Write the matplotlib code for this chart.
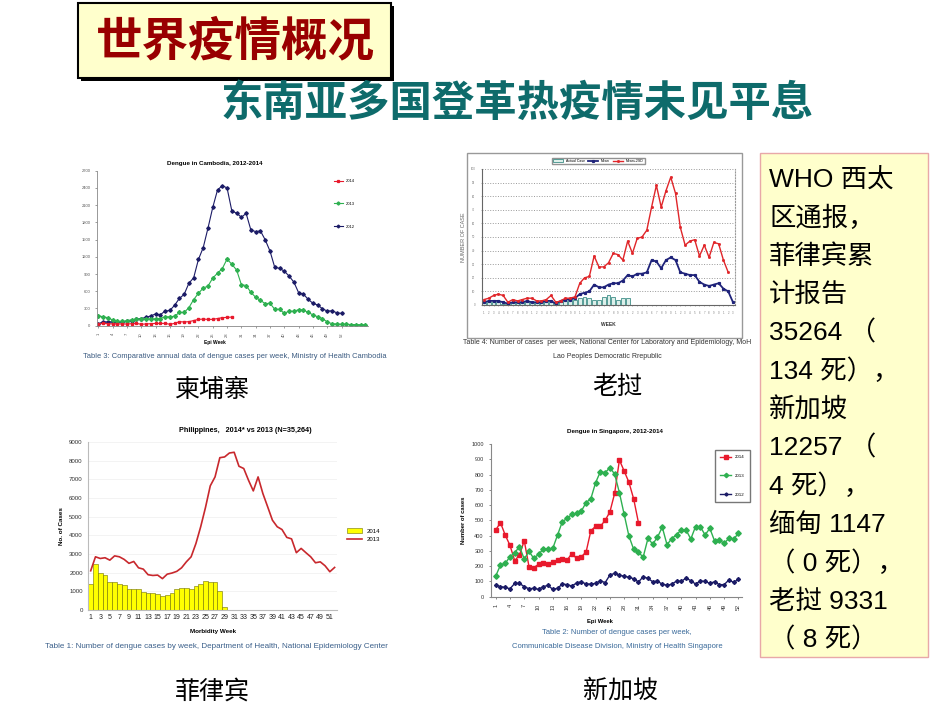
import matplotlib
matplotlib.use("Agg")
import matplotlib.pyplot as plt
from matplotlib.patches import Rectangle
import numpy as np

plt.rcParams['font.family'] = ['Liberation Sans', 'Noto Sans CJK SC']
plt.rcParams['axes.unicode_minus'] = False

W, H = 950, 713

# ---------------- data ----------------
# Cambodia (weekly cases)
kh_2012 = [30, 70, 65, 70, 65, 70, 75, 90, 110, 125, 145, 170, 205, 190, 255, 265, 355, 475, 545, 740,
           835, 1155, 1360, 1700, 2060, 2365, 2440, 2400, 2000, 1960, 1890, 1955, 1665, 1640, 1650, 1495,
           1300, 1015, 1000, 950, 865, 760, 575, 550, 460, 390, 360, 295, 255, 260, 225, 215]
kh_2013 = [175, 155, 140, 100, 75, 75, 85, 105, 110, 115, 120, 120, 120, 125, 155, 155, 165, 230, 230, 315,
           455, 565, 655, 690, 830, 915, 995, 1160, 1070, 970, 715, 700, 580, 495, 440, 385, 390, 285, 285,
           215, 255, 250, 280, 275, 230, 190, 155, 125, 65, 35, 30, 25, 25, 20, 20, 18, 15]
kh_2014 = [30, 40, 35, 30, 30, 30, 30, 35, 40, 25, 30, 35, 40, 40, 40, 25, 40, 70, 65, 70, 90, 110, 115,
           110, 110, 125, 140, 145, 150]
kh_ticks = list(range(1, 53, 3))

# Laos (weekly cases)
la_mean2sd = [4, 5, 7, 8, 7, 2, 4, 3, 4, 5, 5, 3, 3, 4, 7, 2, 3, 5, 5, 6,
              16, 20, 21, 36, 28, 28, 31, 38, 37, 33, 47, 38, 49, 50, 55, 72, 88, 72, 84, 94,
              82, 57, 44, 47, 48, 36, 44, 35, 46, 45, 33, 24]
la_mean = [2, 3, 3, 3, 2, 1, 2, 2, 2, 3, 2, 2, 2, 3, 3, 1, 3, 4, 4, 5,
           8, 9, 10, 15, 13, 13, 15, 16, 16, 18, 22, 21, 23, 23, 24, 33, 32, 27, 33, 35,
           33, 24, 23, 22, 22, 17, 15, 14, 15, 16, 12, 10, 2]
la_actual = [2, 2, 2, 2, 1, 1, 2, 2, 2, 2, 2, 2, 2, 2, 2, 2, 3, 3, 4, 4,
             5, 6, 5, 4, 4, 6, 7, 6, 4, 5, 5]

# Philippines (weekly cases)
ph_2013 = [2100, 2850, 2760, 2800, 2670, 2900, 2850, 2710, 2500, 2600, 2260, 2190, 1890, 1850, 1870, 1680,
           1920, 1980, 2070, 2260, 2580, 2850, 3560, 4460, 5490, 6650, 7130, 8160, 8200, 8410, 8450, 7700,
           7580, 6950, 6380, 7130, 6240, 5530, 4810, 4460, 4310, 3890, 3810, 3070, 3300, 3070, 2850, 2530,
           2580, 2370, 2050, 2280]
ph_2014 = [1370, 2440, 2000, 1850, 1480, 1480, 1370, 1340, 1100, 1100, 1100, 960, 890, 890, 860, 770, 800,
           930, 1140, 1160, 1190, 1100, 1300, 1370, 1550, 1510, 1480, 1030, 180]
ph_ticks = list(range(1, 52, 2))

# Singapore (weekly cases)
sg_2014 = [437, 485, 404, 336, 236, 273, 367, 197, 190, 212, 223, 212, 225, 240, 245, 240, 282, 251, 262,
           293, 432, 461, 461, 500, 555, 677, 895, 823, 749, 640, 485]
sg_2013 = [135, 207, 218, 262, 288, 328, 247, 297, 251, 277, 312, 312, 317, 404, 491, 513, 539, 546, 561,
           616, 642, 747, 819, 812, 845, 803, 681, 539, 397, 310, 290, 260, 382, 345, 389, 456, 341, 380,
           406, 437, 437, 378, 459, 459, 404, 448, 365, 371, 349, 382, 376, 415]
sg_2012 = [76, 66, 61, 52, 87, 87, 66, 52, 55, 48, 66, 74, 48, 55, 83, 79, 70, 90, 98, 83, 83, 87, 105, 92,
           142, 153, 140, 135, 127, 118, 96, 131, 120, 98, 103, 81, 76, 81, 103, 100, 122, 105, 83, 103,
           100, 87, 98, 79, 79, 109, 94, 114]
sg_ticks = list(range(1, 53, 3))

who_lines = ["WHO 西太", "区通报，", "菲律宾累", "计报告", "35264 （", "134 死），", "新加坡",
             "12257 （", "4 死），", "缅甸 1147", "（ 0 死），", "老挝 9331", "（ 8 死）"]


def wk(vals):
    return np.arange(1, len(vals) + 1)


def px_axes(l, t, r, b):
    a = fig.add_axes([l / W, 1 - b / H, (r - l) / W, (b - t) / H])
    a.patch.set_alpha(0)
    a.set_zorder(2)
    return a


def ftext(x, y, s, **kw):
    fig.text(x / W, 1 - y / H, s, **kw)


def fbox(l, t, r, b, **kw):
    fig.patches.append(Rectangle((l / W, 1 - b / H), (r - l) / W, (b - t) / H,
                                 transform=fig.transFigure, zorder=0, **kw))


fig = plt.figure(figsize=(9.5, 7.13), dpi=100)
fig.patch.set_facecolor('white')

# ---------------- header ----------------
fbox(81, 6, 394, 81, facecolor='black', edgecolor='none')
fbox(78, 3, 391, 78, facecolor='#FFFFCC', edgecolor='black', linewidth=1.5)
ftext(235, 41, "世界疫情概况", fontsize=33.5, fontweight='bold', color='#990000',
      ha='center', va='center', family='Noto Sans CJK SC')
ftext(517, 104, "东南亚多国登革热疫情未见平息", fontsize=30.5, fontweight='bold', color='#0E6B6B',
      ha='center', va='center', family='Noto Sans CJK SC')

# ---------------- Cambodia ----------------
ax = px_axes(97.3, 170.7, 367.8, 325.7)
ax.plot(wk(kh_2012), kh_2012, color='#1B1B66', lw=0.8, marker='D', ms=1.8, label='2012')
ax.plot(wk(kh_2013), kh_2013, color='#2EB050', lw=0.8, marker='D', ms=2.0, label='2013')
ax.plot(wk(kh_2014), kh_2014, color='#E8192C', lw=0.8, marker='s', ms=1.7, label='2014')
ax.set_xlim(0.8, 57.5)
ax.set_ylim(0, 2700)
ax.set_yticks(range(0, 2701, 300))
ax.set_xticks(kh_ticks)
ax.set_xticklabels([str(t) for t in kh_ticks], rotation=90)
ax.tick_params(labelsize=3, colors='#555555', length=1.5, width=0.4)
for s in ['top', 'right']:
    ax.spines[s].set_visible(False)
for s in ['left', 'bottom']:
    ax.spines[s].set_color('#888888')
    ax.spines[s].set_linewidth(0.6)
h, l = ax.get_legend_handles_labels()
ax.legend(h[::-1], l[::-1], loc='upper left', bbox_to_anchor=(0.86, 0.97), fontsize=3, frameon=False,
          labelspacing=4.5, handlelength=2.2, markerscale=0.8)
ftext(215, 163, "Dengue in Cambodia, 2012-2014", fontsize=4.5, fontweight='bold', ha='center', va='center')
ftext(215, 343, "Epi Week", fontsize=3.5, fontweight='bold', ha='center', va='center')
ftext(235, 357, "Table 3: Comparative annual data of dengue cases per week, Ministry of Health Cambodia",
      fontsize=5.4, color='#3A5A80', ha='center', va='center')
ftext(212, 390, "柬埔寨", fontsize=18, ha='center', va='center', family='Noto Sans CJK SC')

# ---------------- Laos ----------------
fbox(467, 153, 742, 338, facecolor='white', edgecolor='#999999', linewidth=1.0)
ax = px_axes(481.6, 169, 735.4, 305)
ax.bar(wk(la_actual), la_actual, width=0.8, color='#DDEFEA', edgecolor='#3F8F88', linewidth=0.6,
       label='Actual Case')
ax.plot(wk(la_mean), la_mean, color='#1F237A', lw=1.3, marker='s', ms=1.3, label='Mean')
ax.plot(wk(la_mean2sd), la_mean2sd, color='#E0262A', lw=1.0, marker='s', ms=1.0, label='Mean+2SD')
ax.set_xlim(0.5, 53.5)
ax.set_ylim(0, 100)
ax.set_yticks(range(0, 101, 10))
ax.set_xticks(range(1, 54))
ax.set_xticklabels([str(t % 10) for t in range(1, 54)])
ax.tick_params(labelsize=2, colors='#777777', length=1, width=0.4)
ax.yaxis.grid(True, linestyle=':', color='#999999', linewidth=0.7)
ax.set_axisbelow(True)
ax.spines['top'].set_visible(False)
ax.spines['right'].set_linestyle(':')
ax.spines['right'].set_color('#999999')
ax.spines['left'].set_color('#666666')
ax.spines['bottom'].set_color('#666666')
ax.set_ylabel("NUMBER OF CASE", fontsize=4, color='#666666', labelpad=3)
ax.set_xlabel("WEEK", fontsize=3.5, fontweight='bold', color='#333333', labelpad=5)
h, l = ax.get_legend_handles_labels()
order = [l.index('Actual Case'), l.index('Mean'), l.index('Mean+2SD')]
ax.legend([h[i] for i in order], [l[i] for i in order], loc='center', bbox_to_anchor=(0.46, 1.06), ncol=3,
          fontsize=2.5, frameon=True, fancybox=False, edgecolor='#777777', handlelength=3,
          columnspacing=0.8, borderpad=0.3)
ftext(607, 343, "Table 4: Number of cases  per week, National Center for Laboratory and Epidemiology, MoH",
      fontsize=5, color='#333333', ha='center', va='center')
ftext(607, 357, "Lao Peoples Democratic Rrepublic", fontsize=5, color='#333333', ha='center', va='center')
ftext(617, 387, "老挝", fontsize=18, ha='center', va='center', family='Noto Sans CJK SC')

# ---------------- Philippines ----------------
ax = px_axes(88.3, 442, 337, 610)
ax.bar(wk(ph_2014), ph_2014, width=1.0, color='#FFFF00', edgecolor='#707000', linewidth=0.4, label='2014')
ax.plot(wk(ph_2013), ph_2013, color='#C8282D', lw=1.2, label='2013')
ax.set_xlim(0.5, 52.5)
ax.set_ylim(0, 9000)
ax.set_yticks(range(0, 9001, 1000))
ax.set_xticks(ph_ticks)
ax.tick_params(axis='y', labelsize=4.4, colors='#333333', length=0, pad=4)
ax.tick_params(axis='x', labelsize=5, colors='#222222', length=0, pad=3)
ax.yaxis.grid(True, color='#EEEEEE', linewidth=0.5)
ax.set_axisbelow(True)
for s in ['top', 'right']:
    ax.spines[s].set_visible(False)
ax.spines['left'].set_color('#BBBBBB')
ax.spines['bottom'].set_color('#BBBBBB')
ax.set_ylabel("No. of Cases", fontsize=4.5, fontweight='bold', labelpad=4)
h, l = ax.get_legend_handles_labels()
ax.legend([h[1], h[0]], [l[1], l[0]], loc='upper left', bbox_to_anchor=(1.02, 0.52), fontsize=4.3,
          frameon=False, handlelength=2.5, handleheight=1.0, labelspacing=0.5)
ftext(245, 431, "Philippines,   2014* vs 2013 (N=35,264)", fontsize=5.2, fontweight='bold',
      ha='center', va='center')
ftext(213, 632, "Morbidity Week", fontsize=4.5, fontweight='bold', ha='center', va='center')
ftext(216, 647, "Table 1: Number of dengue cases by week, Department of Health, National Epidemiology Center",
      fontsize=5.8, color='#3A5F8A', ha='center', va='center')
ftext(212, 692, "菲律宾", fontsize=18, ha='center', va='center', family='Noto Sans CJK SC')

# ---------------- Singapore ----------------
ax = px_axes(490.7, 444, 741.7, 596.7)
ax.plot(wk(sg_2014), sg_2014, color='#E8192C', lw=1.0, marker='s', ms=2.8, label='2014')
ax.plot(wk(sg_2013), sg_2013, color='#2EB050', lw=1.0, marker='D', ms=2.8, label='2013')
ax.plot(wk(sg_2012), sg_2012, color='#1B1B66', lw=1.0, marker='D', ms=2.0, label='2012')
ax.set_xlim(-0.05, 52.7)
ax.set_ylim(0, 1000)
ax.set_yticks(range(0, 1001, 100))
ax.set_xticks(sg_ticks)
ax.set_xticklabels([str(t) for t in sg_ticks], rotation=90)
ax.tick_params(labelsize=4, colors='#333333', length=1.5, width=0.4)
for s in ['top', 'right']:
    ax.spines[s].set_visible(False)
ax.spines['left'].set_color('#888888')
ax.spines['bottom'].set_color('#888888')
ax.set_ylabel("Number of cases", fontsize=4.2, fontweight='bold', labelpad=4)
ax.legend(loc='upper left', bbox_to_anchor=(0.886, 0.974), fontsize=3.2, frameon=True, fancybox=False,
          edgecolor='#555555', labelspacing=3.3, handlelength=2.5, borderpad=1.1, markerscale=0.8)
ftext(615, 432, "Dengue in Singapore, 2012-2014", fontsize=4.5, fontweight='bold', ha='center', va='center')
ftext(600, 622, "Epi Week", fontsize=4.2, fontweight='bold', ha='center', va='center')
ftext(617, 632, "Table 2: Number of dengue cases per week,", fontsize=5.5, color='#3A6A9A',
      ha='center', va='center')
ftext(617, 646, "Communicable Disease Division, Ministry of Health Singapore", fontsize=5.5, color='#3A6A9A',
      ha='center', va='center')
ftext(620, 691, "新加坡", fontsize=18, ha='center', va='center', family='Noto Sans CJK SC')

# ---------------- WHO note box ----------------
fbox(760, 153, 928, 657, facecolor='#FFFFCC', edgecolor='#E8A8A8', linewidth=1.0)
for i, line in enumerate(who_lines):
    ftext(769, 180 + i * 38.3, line, fontsize=19, ha='left', va='center',
          family=['Liberation Sans', 'Noto Sans CJK SC'])

fig.savefig("out.png", dpi=100)
